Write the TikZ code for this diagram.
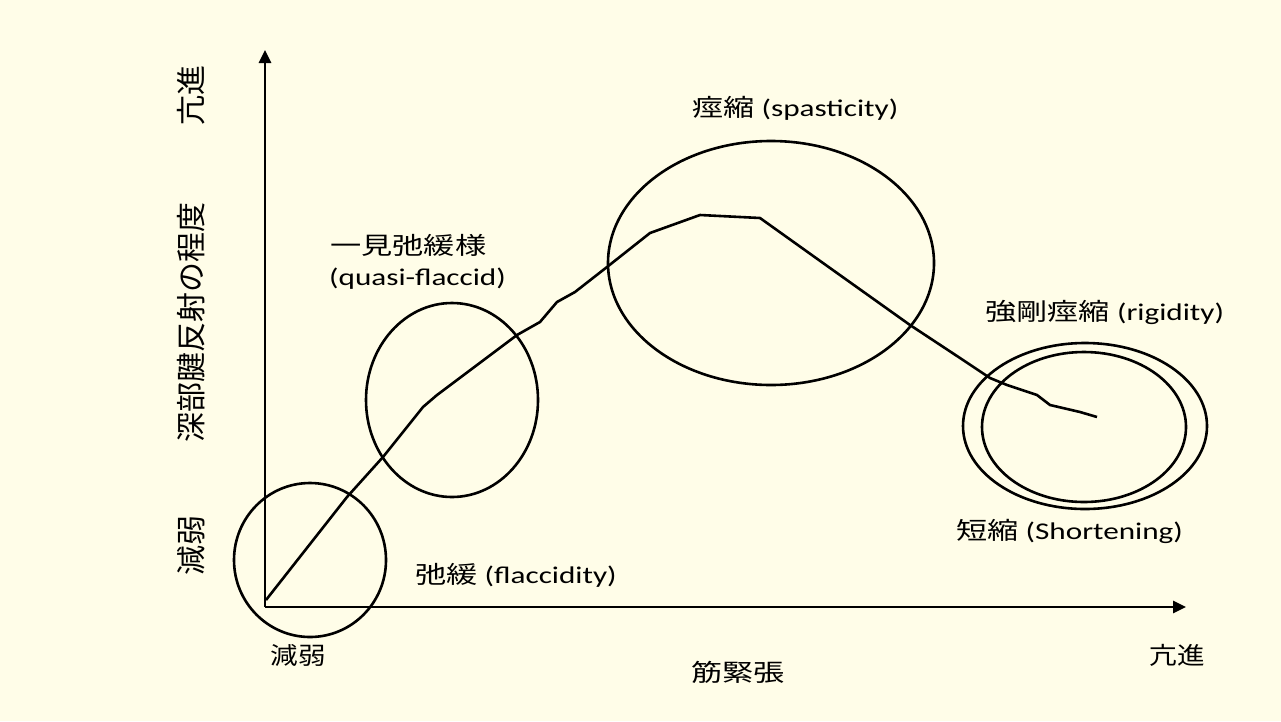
\documentclass[tikz,border=0pt]{standalone}
\usepackage{fontspec}
\setmainfont{Carlito}
\newfontfamily\jp{Noto Sans CJK JP}
\usetikzlibrary{arrows.meta}
\definecolor{bgcream}{RGB}{255,253,232}
\newcommand\mylbl[1]{\scalebox{1.3}[1]{#1}}
\begin{document}
\begin{tikzpicture}[x=1pt,y=-1pt,
  lab/.style={inner sep=0pt,font=\fontsize{24}{24}\selectfont},
  vlab/.style={inner sep=0pt,rotate=90,font=\jp\fontsize{30}{30}\selectfont},
  ax/.style={line width=2.8pt,-{Triangle[length=13pt,width=12pt]}},
  ring/.style={line width=2.6pt},
  crv/.style={line width=2.6pt,line join=round}]
\fill[bgcream] (0,0) rectangle (1281,721);
\useasboundingbox (0,0) rectangle (1281,721);
\coordinate (o) at (265,607);
\coordinate (ytop) at (265,50);
\coordinate (xend) at (1186,607);
\draw[ax] (o) -- (ytop);
\draw[ax] (o) -- (xend);
% circles
\draw[ring] (310,560) ellipse [x radius=76, y radius=77];
\draw[ring] (452,400) ellipse [x radius=86, y radius=97];
\draw[ring] (771,263) ellipse [x radius=163, y radius=122];
\draw[ring] (1085,426) ellipse [x radius=122, y radius=83];
\draw[ring] (1084,427) ellipse [x radius=102, y radius=75];
% curve
\draw[crv] (266,600) -- (347,497) -- (383,457) -- (423,407) -- (437,395) -- (477,365) -- (517,335)
  -- (540,322) -- (557,302) -- (575,292) -- (607,267) -- (650,233) -- (700,215) -- (720,216)
  -- (760,218) -- (830,268) -- (910,325) -- (960,358) -- (990,378) -- (1007,385) -- (1037,395)
  -- (1050,405) -- (1080,412) -- (1097,417);
% labels
\node[lab,anchor=west] (spa) at (692,108) {\mylbl{{\jp 痙縮} (spasticity)}};
\node[lab,anchor=west] (qf1) at (330,245) {\mylbl{\jp 一見弛緩様}};
\node[lab,anchor=west] (qf2) at (329,279) {\mylbl{(quasi-flaccid)}};
\node[lab,anchor=west] (rig) at (985,312) {\mylbl{{\jp 強剛痙縮} (rigidity)}};
\node[lab,anchor=west] (sho) at (956,531) {\mylbl{{\jp 短縮} (Shortening)}};
\node[lab,anchor=west] (fla) at (415,575) {\mylbl{{\jp 弛緩} (flaccidity)}};
\node[lab] (xlo) at (298,655) {\scalebox{1.15}[1]{\jp 減弱}};
\node[lab] (xmid) at (738,672) {\mylbl{\jp 筋緊張}};
\node[lab] (xhi) at (1177,655) {\scalebox{1.15}[1]{\jp 亢進}};
\node[vlab] (yhi) at (191,95) {亢進};
\node[vlab] (ymid) at (191,322) {深部腱反射の程度};
\node[vlab] (ylo) at (191,545) {減弱};
\end{tikzpicture}
\end{document}
